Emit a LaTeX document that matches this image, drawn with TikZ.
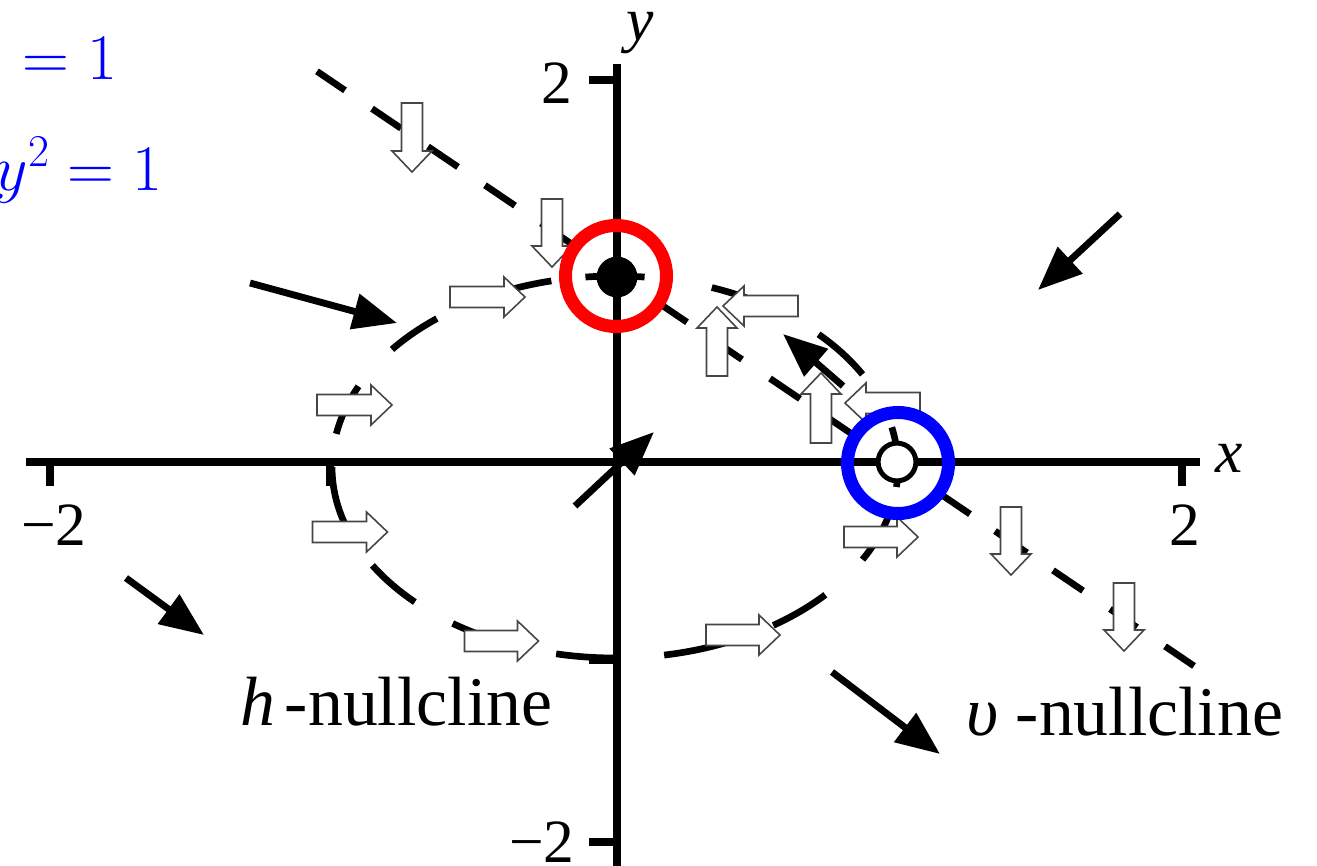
\RequirePackage{fix-cm}
\documentclass[tikz,border=0pt]{standalone}
\usepackage{fontspec}
\setmainfont{Liberation Serif}
\usetikzlibrary{arrows.meta}
\definecolor{pureblue}{RGB}{0,0,255}
\definecolor{purered}{RGB}{255,0,0}
\definecolor{wedge}{RGB}{70,70,70}
\tikzset{
  axisline/.style={line width=4pt},
  tickmark/.style={line width=4.5pt},
  nullc/.style={line width=3.8pt},
  flow/.style={line width=3.9pt, -{Triangle[length=25pt,width=20pt]}},
  ring/.style={circle, draw, line width=7.4pt, minimum size=57.5pt, inner sep=0pt},
  warrow/.style={draw=wedge, line width=0.9pt, fill=white, line join=miter},
  wa/.pic={\path[warrow] (-#1/2,-10.5) -- (#1/2-21,-10.5) -- (#1/2-21,-20) -- (#1/2,0) -- (#1/2-21,20) -- (#1/2-21,10.5) -- (-#1/2,10.5) -- cycle;},
  lbl/.style={inner sep=0pt, font=\fontsize{35}{40}\selectfont},
  biglbl/.style={inner sep=0pt, font=\fontsize{39.7}{48}\selectfont},
  eqlbl/.style={inner sep=0pt, text=pureblue, font=\fontsize{37}{40}\selectfont},
}
\begin{document}
\begin{tikzpicture}[x=0.02cm,y=-0.02cm]
\useasboundingbox (0,0) rectangle (1317,865);
\clip (0,0) rectangle (1317,865);

% axes
\coordinate (xa0) at (26,462);
\coordinate (xa1) at (1200,462);
\coordinate (ya0) at (617,64);
\coordinate (ya1) at (617,870);
\draw[axisline] (xa0) -- (xa1);
\draw[axisline] (ya0) -- (ya1);
\foreach \t in {50,330,1182} \draw[tickmark] (\t,462) -- (\t,486);
\foreach \t in {80,660,842} \draw[tickmark] (617,\t) -- (589,\t);

% h-nullcline (dashed circle)
\foreach \a/\b in {155/170,129/142,103/117,84/96,54/70,29/44,-6/12,331/347,304/318,280/293,258/270,235/248,211/225,180/197}
  \draw[nullc] plot[domain=\a:\b, samples=30] ({615+283*cos(\x)},{467-191*sin(\x)});

% v-nullcline (dashed line)
\foreach \a/\b in {317/345,372/401,428/458,485/515,541/578,657/687,714/742,770/800,826/856,940/970,995/1027,1053/1083,1110/1137,1165/1194}
  \draw[nullc] (\a,{70+0.678*(\a-315)}) -- (\b,{70+0.678*(\b-315)});

% equilibria
\node[circle, fill=black, minimum size=23.2pt, inner sep=0pt] (stable) at (617,277) {};
\node[circle, draw=black, fill=white, line width=2.8pt, minimum size=21.5pt, inner sep=0pt] (unstable) at (897,462) {};

% white block arrows
\pic[rotate=0] at (487.5,297) {wa=75};
\pic[rotate=0] at (354.5,405) {wa=75};
\pic[rotate=0] at (350,532) {wa=75};
\pic[rotate=0] at (501.5,641) {wa=74};
\pic[rotate=0] at (743,635) {wa=74};
\pic[rotate=0] at (881,537) {wa=74};
\pic[rotate=180] at (760.5,306) {wa=75};
\pic[rotate=180] at (882.5,403) {wa=75};
\pic[rotate=90] at (717,341.5) {wa=69};
\pic[rotate=90] at (821,408) {wa=70};
\pic[rotate=-90] at (412,137.5) {wa=69};
\pic[rotate=-90] at (552,233) {wa=68};
\pic[rotate=-90] at (1011,541) {wa=68};
\pic[rotate=-90] at (1124,617) {wa=68};

% black flow arrows
\coordinate (f1s) at (1120,214); \coordinate (f1e) at (1038,290);
\coordinate (f2s) at (250,283);  \coordinate (f2e) at (397,323);
\coordinate (f3s) at (126,578);  \coordinate (f3e) at (204,635);
\coordinate (f4s) at (832,672);  \coordinate (f4e) at (940,754);
\coordinate (f5s) at (575,506);  \coordinate (f5e) at (654,432);
\coordinate (f6s) at (843,386);  \coordinate (f6e) at (783,334);
\draw[flow] (f1s) -- (f1e);
\draw[flow] (f2s) -- (f2e);
\draw[flow] (f3s) -- (f3e);
\draw[flow] (f4s) -- (f4e);
\draw[flow] (f5s) -- (f5e);
\draw[flow] (f6s) -- (f6e);

% highlight rings
\node[ring, draw=purered] (redring) at (616,276) {};
\node[ring, draw=pureblue] (bluering) at (898,463) {};

% labels
\node[lbl, anchor=base] (xlab) at (1229,472) {\textit{x}};
\node[lbl, anchor=base] (ylab) at (640,41) {\textit{y}};
\node[lbl, anchor=base] (ytop) at (557,104) {2};
\node[lbl, anchor=base east] (ybot) at (575,862) {−2};
\node[lbl, anchor=base east] (xleft) at (87,545) {−2};
\node[lbl, anchor=base] (xright) at (1185,545) {2};
\node[biglbl, anchor=base west] (hnull) at (240,725) {\textit{h}\kern0.14em-nullcline};
\node[biglbl, anchor=base west] (vnull) at (966,735) {\textit{υ}\kern0.25em-nullcline};
\node[eqlbl, anchor=base east] (eqa) at (118,80) {$=1$};
\node[eqlbl, anchor=base east] (eqb) at (163,190) {$y^2=1$};
\end{tikzpicture}
\end{document}
